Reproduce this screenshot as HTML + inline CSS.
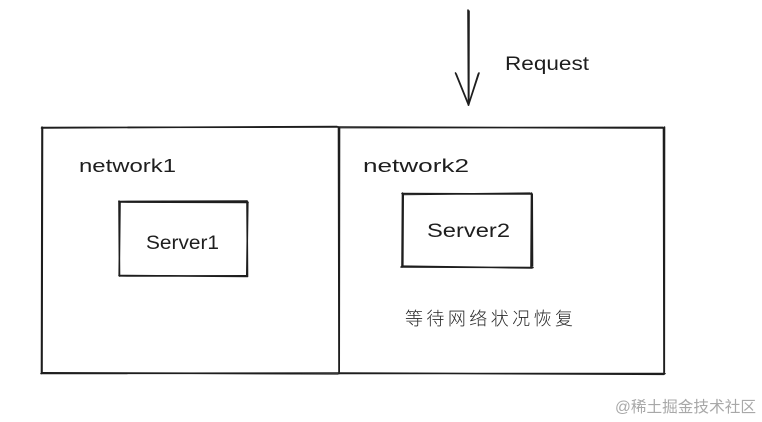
<!DOCTYPE html>
<html>
<head>
<meta charset="utf-8">
<style>
  html, body { margin:0; padding:0; background:#ffffff; }
  body { width:762px; height:422px; overflow:hidden; }
  svg { display:block; }
  .hand { font-family: "Liberation Sans", "DejaVu Sans", sans-serif; fill:#1e1e1e; }
  .cjk { font-family: "Liberation Sans", "Noto Sans CJK SC", "WenQuanYi Zen Hei", sans-serif; }
</style>
</head>
<body>
<svg width="762" height="422" viewBox="0 0 762 422" xmlns="http://www.w3.org/2000/svg">
  <rect width="762" height="422" fill="#ffffff"/>
  <g fill="none" stroke="#1e1e1e" stroke-linecap="round" stroke-width="1.6">
    <!-- Left network box -->
    <path d="M42 127.5 L338 127 M41.5 128 L337 126.5"/>
    <path d="M42 127 L41.5 373.5 M42.5 128 L42 372"/>
    <path d="M41 373.5 L339 373 M42 372.8 L338 373.8"/>
    <path d="M338.5 127 L339 373.5 M339.5 128 L339.2 372"/>
    <!-- Right network box -->
    <path d="M338 127 L664 128 M339 127.6 L663 127.4"/>
    <path d="M663.5 128 L664 374 M664.5 127 L664.3 372"/>
    <path d="M339 373.5 L665 373.5 M340 373 L664 374.3"/>
    <!-- Server1 box -->
    <path d="M119 201.5 L247 201 M120 202 L248 202.5"/>
    <path d="M119 201 L119.5 276 M120 202 L119.2 275"/>
    <path d="M119 275.5 L247.5 276.5 M120 276 L246 275.8"/>
    <path d="M247 201 L247.5 276 M247.8 202 L246.8 275"/>
    <!-- Server2 box -->
    <path d="M402 193.5 L531 194 M403 194.5 L530 193.2"/>
    <path d="M402.5 193 L402 267 M403.2 194 L402.8 266"/>
    <path d="M401 267 L533 267.5 M402 266.2 L532 268"/>
    <path d="M531.5 193 L531 267.5 M532.2 194 L532.5 266"/>
    <!-- Arrow -->
    <path d="M468 10 L468.5 105 M469 11 L468.8 104"/>
    <path d="M455.5 73 L468.5 105 M456.2 74 L468.3 104"/>
    <path d="M479 73 L468.5 105 M478.3 74 L468.8 104"/>
  </g>
  <!-- Labels -->
  <text class="hand" x="505" y="70" font-size="19" textLength="84" lengthAdjust="spacingAndGlyphs">Request</text>
  <text class="hand" x="79" y="172" font-size="18" textLength="97" lengthAdjust="spacingAndGlyphs">network1</text>
  <text class="hand" x="363" y="172" font-size="18" textLength="106" lengthAdjust="spacingAndGlyphs">network2</text>
  <text class="hand" x="146" y="249" font-size="19" textLength="73" lengthAdjust="spacingAndGlyphs">Server1</text>
  <text class="hand" x="427" y="237" font-size="19" textLength="83" lengthAdjust="spacingAndGlyphs">Server2</text>
  <text class="cjk" x="405" y="325" font-size="18" font-weight="300" fill="#2a2a2a" textLength="168" lengthAdjust="spacing">等待网络状况恢复</text>
  <text class="cjk" x="615" y="412" font-size="15.5" fill="#a8a8a8" textLength="141" lengthAdjust="spacingAndGlyphs">@稀土掘金技术社区</text>
</svg>
</body>
</html>
